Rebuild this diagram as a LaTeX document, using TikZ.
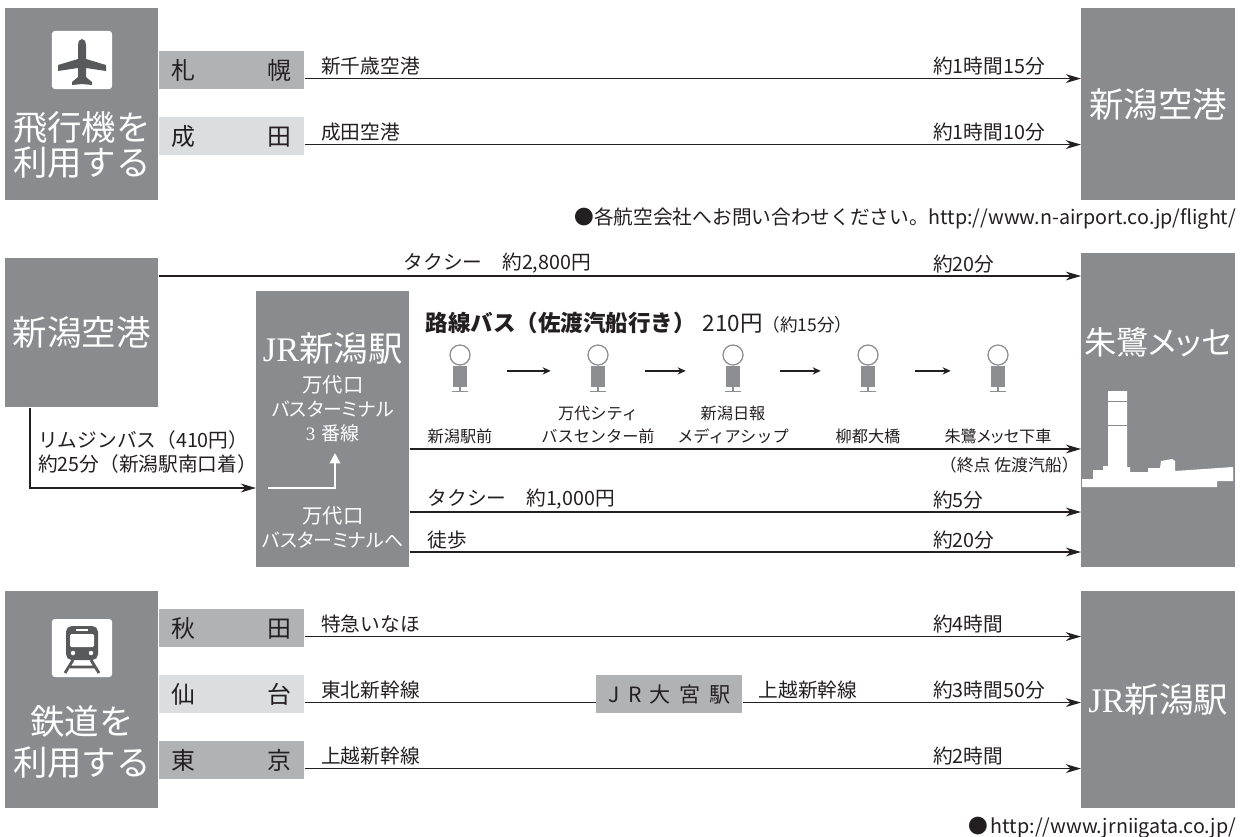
\documentclass[tikz,border=0pt]{standalone}
\usepackage{fontspec}
\setmainfont{Noto Sans CJK JP}
\newfontfamily\propfont[RawFeature=+palt]{Noto Sans CJK JP}
\newfontfamily\romanlat{Liberation Serif}
\usetikzlibrary{arrows.meta,positioning,calc}

\definecolor{boxgray}{RGB}{138,139,143}
\definecolor{bargray}{RGB}{177,178,180}
\definecolor{barlight}{RGB}{220,221,223}
\definecolor{inkgray}{RGB}{35,31,32}
\definecolor{icongray}{RGB}{88,89,91}
\definecolor{stopgray}{RGB}{141,142,145}

\newcommand{\citypair}[2]{\makebox[3cm]{#1\hfill#2}}
\newcommand{\jrlat}{{\romanlat JR}}
\newcommand{\trgap}{\hspace{0.4em}}

\begin{document}
\begin{tikzpicture}[
    x=0.025cm, y=-0.025cm,
    panel/.style={
        rectangle,
        fill=boxgray,
        inner sep=0pt,
        anchor=north west
    },
    title/.style={
        text=white,
        align=center,
        inner sep=0pt,
        font=\fontsize{24.5}{24.5}\selectfont
    },
    sub/.style={
        text=white,
        align=center,
        inner sep=0pt,
        font=\propfont\fontsize{13.5}{17}\selectfont
    },
    city/.style={
        rectangle,
        anchor=north west,
        inner sep=0pt,
        minimum width=3.625cm,
        minimum height=0.95cm,
        text=inkgray,
        font=\fontsize{17}{20}\selectfont
    },
    route/.style={
        -{Stealth[length=3.8mm,width=2.2mm,inset=1.2mm]},
        line width=0.9pt,
        draw=inkgray
    },
    hop/.style={
        -{Stealth[length=2mm,width=1.8mm]},
        line width=1.3pt,
        draw=inkgray,
        shorten <=1cm,
        shorten >=1cm
    },
    lbl/.style={
        anchor=south west,
        inner sep=0pt,
        yshift=2pt,
        text=inkgray,
        font=\fontsize{14}{17}\selectfont
    },
    stoplbl/.style={
        anchor=south,
        inner sep=0pt,
        align=center,
        text=inkgray,
        font=\fontsize{11.5}{16}\selectfont
    },
    note/.style={
        anchor=east,
        inner sep=0pt,
        text=inkgray,
        font=\fontsize{14}{17}\selectfont
    },
    iconbox/.style={
        rectangle,
        fill=white,
        rounded corners=2pt,
        minimum width=1.5cm,
        minimum height=1.45cm
    },
    post/.style={
        rectangle,
        fill=stopgray,
        inner sep=0pt,
        minimum width=0.35cm,
        minimum height=0.525cm
    },
    ring/.style={
        circle,
        draw=stopgray,
        line width=0.9pt,
        inner sep=0pt,
        minimum size=0.5cm
    }
]
\useasboundingbox (0,0) rectangle (1240,836);

% ---- by air ----
\node[panel, minimum width=3.825cm, minimum height=4.8cm] (airpanel) at (5,8) {};
\node[panel, minimum width=3.85cm, minimum height=4.8cm, title] (nairport) at (1081,8) {新潟空港};

\node[iconbox] (planeicon) at (82,60) {};
\begin{scope}[shift={(planeicon.center)}]
  \fill[icongray] (0,-21) .. controls (3,-21) and (4,-18) .. (4,-15) -- (4,-1) -- (24,5) -- (24,11) -- (4,8)
    -- (4,17) -- (10,22) -- (10,25) -- (0,24) -- (-10,25) -- (-10,22) -- (-4,17) -- (-4,8)
    -- (-24,11) -- (-24,5) -- (-4,-1) -- (-4,-15) .. controls (-4,-18) and (-3,-21) .. (0,-21) -- cycle;
\end{scope}
\node[title] (airtitle) at (82,145) {飛行機を\\利用する};

\node[city, fill=bargray] (sapporo) at (159,51) {\citypair{札}{幌}};
\node[city, fill=barlight] (narita) at (159,117) {\citypair{成}{田}};

\coordinate (labcol) at (321,0);
\coordinate (timecol) at (933,0);

\coordinate (r1) at ($(sapporo.south east)+(0,-11)$);
\coordinate (r2) at ($(narita.south east)+(0,-11)$);
\draw[route] (r1) -- (r1 -| nairport.west);
\draw[route] (r2) -- (r2 -| nairport.west);
\node[lbl] (r1lbl) at (labcol |- r1) {新千歳空港};
\node[lbl] (r1time) at (timecol |- r1) {約1時間15分};
\node[lbl] (r2lbl) at (labcol |- r2) {成田空港};
\node[lbl] (r2time) at (timecol |- r2) {約1時間10分};

\node[note] (airnote) at ($(nairport.south east)+(1,18)$) {●各航空会社へお問い合わせください。http://www.n-airport.co.jp/flight/};

% ---- airport to the convention centre ----
\node[panel, minimum width=3.825cm, minimum height=3.725cm, title] (nairport2) at (5,258) {新潟空港};
\node[panel, minimum width=3.825cm, minimum height=6.9cm] (jrbox) at (256,291) {};
\node[panel, minimum width=3.85cm, minimum height=7.85cm] (toki) at (1081,253) {};
\node[title, font=\propfont\fontsize{22.8}{22.8}\selectfont] (tokititle) at ($(toki.north)+(0,89)$) {朱鷺メッセ};

% skyline
\fill[white] (1082,487) -- (1082,479) -- (1093,479) -- (1093,470) -- (1103,470) -- (1103,466) -- (1108,466)
  -- (1108,391) -- (1127,391) -- (1127,467) -- (1130,467) -- (1130,472) -- (1148,472) -- (1148,468)
  -- (1160,468) -- (1161,461) -- (1172,459) -- (1175,461) -- (1175,471) -- (1233,467) -- (1233,481)
  -- (1217,481) -- (1217,487) -- cycle;
\draw[boxgray, line width=0.6pt] (1108,401) -- (1127,401) (1108,425) -- (1127,425);

\coordinate (m0) at ($(nairport2.north east)+(0,18)$);
\draw[route] (m0) -- (m0 -| toki.west);
\node[lbl] (taxi1) at ($(m0)+(245,0)$) {タクシー　約2,800円};
\node[lbl] (taxi1time) at (timecol |- m0) {約20分};

\coordinate (limo0) at ($(nairport2.south west)+(25,0)$);
\coordinate (limo1) at ($(jrbox.north west)+(0,197)$);
\draw[route] (limo0) |- (limo1);
\node[lbl, anchor=west, align=left, yshift=0pt, font=\fontsize{14}{17.5}\selectfont] (limotext) at (38,455)
  {リムジンバス（410円）\\約25分（新潟駅南口着）};

\node[title] (jrtitle) at ($(jrbox.north)+(0,57)$) {\jrlat 新潟駅};
\node[sub] (bandai1) at ($(jrbox.north)+(0,118)$) {{\fontsize{14.5}{17}\selectfont 万代口}\\バスターミナル\\{\romanlat 3}\hspace{0.35em}番線};
\node[sub] (bandai2) at ($(jrbox.north)+(0,236)$) {{\fontsize{14.5}{17}\selectfont 万代口}\\バスターミナルへ};
\draw[white, line width=1.5pt, -{Triangle[length=2.6mm,width=2.6mm]}]
  ($(jrbox.north west)+(12,197)$) -| ($(jrbox.north west)+(79,162)$);

\coordinate (b1) at ($(jrbox.north east)+(0,158)$);
\coordinate (b2) at ($(jrbox.north east)+(0,221)$);
\coordinate (b3) at ($(jrbox.north east)+(0,261)$);
\draw[route] (b1) -- (b1 -| toki.west);
\draw[route] (b2) -- (b2 -| toki.west);
\draw[route] (b3) -- (b3 -| toki.west);
\node[lbl] (taxi2) at ($(b2)+(18,0)$) {タクシー　約1,000円};
\node[lbl] (taxi2time) at (timecol |- b2) {約5分};
\node[lbl] (walk) at ($(b3)+(18,0)$) {徒歩};
\node[lbl] (walktime) at (timecol |- b3) {約20分};
\node[stoplbl, anchor=north east, font=\fontsize{12}{14}\selectfont] (terminus) at ($(b1 -| toki.west)+(-2,8)$) {（終点 佐渡汽船）};

% bus route with its stops
\node[anchor=west, inner sep=0pt, text=inkgray, font=\fontsize{16}{19}\selectfont] (bushead) at ($(jrbox.north east)+(16,32)$)
  {{\bfseries 路線バス（佐渡汽船行き）}\hspace{0.3em}210円{\fontsize{12.5}{14}\selectfont（約15分）}};

\coordinate (stoprow) at (0,444);
\foreach \sx [count=\k] in {460,598,733,868,998} {
  \node[post] (stop\k) at (\sx,376.5) {};
  \node[ring] (ring\k) at (\sx,355) {};
  \draw[stopgray, line width=0.9pt] (ring\k.south) -- (stop\k.north);
  \draw[stopgray, line width=0.9pt] (stop\k.south) -- ++(0,4) coordinate (foot\k);
  \draw[stopgray, line width=0.9pt] ($(foot\k)+(-8,0)$) -- ($(foot\k)+(8,0)$);
}
\foreach \a/\b in {1/2,2/3,3/4,4/5}
  \draw[hop] ([yshift=0.14cm]stop\a.east) -- ([yshift=0.14cm]stop\b.west);

\node[stoplbl] (s1lbl) at (stop1 |- stoprow) {新潟駅前};
\node[stoplbl] (s2lbl) at (stop2 |- stoprow) {万代シティ\\バスセンター前};
\node[stoplbl] (s3lbl) at (stop3 |- stoprow) {新潟日報\\メディアシップ};
\node[stoplbl] (s4lbl) at (stop4 |- stoprow) {柳都大橋};
\node[stoplbl, font=\propfont\fontsize{11.5}{16}\selectfont] (s5lbl) at (stop5 |- stoprow) {朱鷺メッセ下車};

% ---- by rail ----
\node[panel, minimum width=3.825cm, minimum height=5.425cm] (railpanel) at (5,591) {};
\node[panel, minimum width=3.85cm, minimum height=5.425cm, title] (jrniigata) at (1081,591) {\jrlat 新潟駅};

\node[iconbox] (trainicon) at (82,648) {};
\begin{scope}[shift={(trainicon.center)}]
  \fill[icongray, rounded corners=4pt] (-16,-22) rectangle (16,12);
  \fill[white] (-6,-19) rectangle (6,-17);
  \fill[white, rounded corners=1pt] (-12,-14) rectangle (12,-1);
  \fill[white] (-9,5) circle (1.6pt) (9,5) circle (1.6pt);
  \draw[icongray, line width=2pt] (-9,12) -- (-17,25) (9,12) -- (17,25) (-12,19) -- (12,19);
\end{scope}
\node[title, font=\fontsize{24.5}{28.5}\selectfont] (railtitle) at (82,742) {鉄道を\\利用する};

\node[city, fill=bargray] (akita) at (159,609) {\citypair{秋}{田}};
\node[city, fill=barlight] (sendai) at (159,675) {\citypair{仙}{台}};
\node[city, fill=bargray] (tokyo) at (159,741) {\citypair{東}{京}};
\node[city, fill=bargray, minimum width=3.65cm, font=\fontsize{15}{18}\selectfont] (omiya) at (596,675) {J\trgap R\trgap 大\trgap 宮\trgap 駅};

\coordinate (k1) at ($(akita.south east)+(0,-11)$);
\coordinate (k2) at ($(sendai.south east)+(0,-11)$);
\coordinate (k3) at ($(tokyo.south east)+(0,-11)$);
\draw[route] (k1) -- (k1 -| jrniigata.west);
\draw[inkgray, line width=0.9pt] (k2) -- (k2 -| omiya.west);
\draw[route] (k2 -| omiya.east) -- (k2 -| jrniigata.west);
\draw[route] (k3) -- (k3 -| jrniigata.west);

\node[lbl] (k1lbl) at (labcol |- k1) {特急いなほ};
\node[lbl] (k1time) at (timecol |- k1) {約4時間};
\node[lbl] (k2lbl) at (labcol |- k2) {東北新幹線};
\node[lbl] (k2lbl2) at ($(k2 -| omiya.east)+(16,0)$) {上越新幹線};
\node[lbl] (k2time) at (timecol |- k2) {約3時間50分};
\node[lbl] (k3lbl) at (labcol |- k3) {上越新幹線};
\node[lbl] (k3time) at (timecol |- k3) {約2時間};

\node[note] (railnote) at ($(jrniigata.south east)+(1,19)$) {●\,http://www.jrniigata.co.jp/};

\end{tikzpicture}
\end{document}
